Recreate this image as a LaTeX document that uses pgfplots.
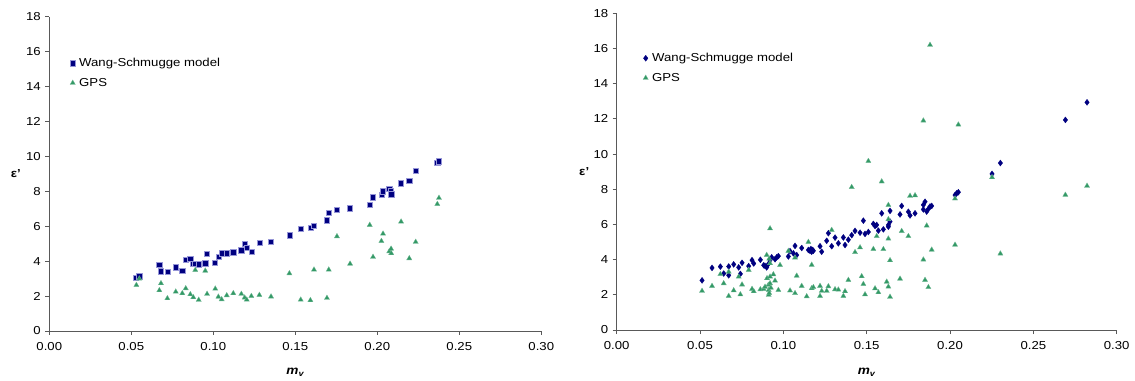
\documentclass[border=0pt]{standalone}
\usepackage{fontspec}
\setmainfont[FakeStretch=1.14]{Liberation Sans}
\usepackage{pgfplots}
\pgfplotsset{compat=1.18}
\definecolor{navy}{HTML}{000080}
\definecolor{seagreen}{HTML}{339966}
\definecolor{halo}{RGB}{150,150,215}
\begin{document}
\begin{tikzpicture}
\useasboundingbox (0bp,0bp) rectangle (1135bp,381bp);
\pgfplotsset{
 myaxis/.style={
  scale only axis,
  xmin=0, xmax=0.3, ymin=0, ymax=18,
  xtick={0,0.05,0.1,0.15,0.2,0.25,0.3}, ytick={0,2,4,6,8,10,12,14,16,18},
  axis x line*=bottom, axis y line*=left,
  axis line style={black!65, line width=0.8bp, -},
  tick style={black!65, line width=0.8bp},
  tick align=outside, major tick length=4bp,
  /pgf/number format/assume math mode=true,
  xticklabel style={/pgf/number format/fixed, /pgf/number format/fixed zerofill, /pgf/number format/precision=2, /tikz/font=\fontsize{11.6}{13}\selectfont, /tikz/yshift=-4bp},
  yticklabel style={/pgf/number format/fixed, /pgf/number format/precision=0, /tikz/font=\fontsize{11.6}{13}\selectfont, /tikz/xshift=-1bp},
  scaled x ticks=false,
  clip=false,
  legend cell align=left,
  legend style={draw=none, fill=none, font=\fontsize{11.6}{13}\selectfont, anchor=north west, row sep=7bp, inner sep=0pt, nodes={inner sep=1.5bp}},
  legend image code/.code={\path[draw=none] (0bp,-1bp) rectangle (11bp,1bp); \draw[#1] plot coordinates {(6bp,0bp)};},
  ylabel={\textbf{ε'}},
  ylabel style={rotate=-90, anchor=center, font=\fontsize{11.6}{13}\selectfont},
  xlabel={\textbf{\textit{m\textsubscript{v}}}},
  xlabel style={anchor=base, font=\fontsize{12}{14}\selectfont},
 },
 bluesq/.style={only marks, mark=square*, mark size=2.6bp, mark options={fill=navy, draw=halo, line width=0.5bp}},
 bluedia/.style={only marks, mark=diamond*, mark size=3bp, mark options={fill=navy, draw=navy, line width=0.3bp}},
 greentri/.style={only marks, mark=triangle*, mark size=3bp, mark options={fill=seagreen, draw=seagreen!70!white, line width=0.3bp}},
}
% ---------------- left panel ----------------
\begin{axis}[myaxis, anchor=south west, at={(49.3bp,50bp)}, width=492bp, height=314.3bp,
  ylabel style={at={(axis description cs:-0.068,0.5)}},
  xlabel style={at={(axis description cs:0.5,-0.1385)}},
  legend style={at={(axis description cs:0.035,0.873)}}]
\addplot[bluesq] coordinates {
(0.0529,3.03) (0.0549,3.13) (0.0671,3.80) (0.0681,3.42) (0.0720,3.40) (0.0771,3.65)
(0.0811,3.45) (0.0832,4.08) (0.0860,4.12) (0.0878,3.84) (0.0890,3.85) (0.0913,3.82)
(0.0951,3.88) (0.0960,4.41) (0.1010,3.89) (0.1031,4.26) (0.1051,4.45) (0.1082,4.45)
(0.1122,4.51) (0.1171,4.62) (0.1191,5.00) (0.1204,4.77) (0.1232,4.52) (0.1281,5.06)
(0.1352,5.11) (0.1464,5.48) (0.1533,5.86) (0.1592,5.92) (0.1612,6.05) (0.1693,6.34)
(0.1704,6.76) (0.1754,6.95) (0.1834,7.03) (0.1954,7.22) (0.1974,7.66) (0.2025,7.79)
(0.2035,8.00) (0.2073,8.15) (0.2084,8.04) (0.2085,7.83) (0.2145,8.46) (0.2195,8.59)
(0.2234,9.20) (0.2366,9.62) (0.2376,9.72)
};
\addlegendentry{Wang-Schmugge model}
\addplot[greentri] coordinates {
(0.0531,2.63) (0.0549,3.00) (0.0671,2.33) (0.0681,2.73) (0.0720,1.87) (0.0771,2.25)
(0.0811,2.16) (0.0832,2.44) (0.0860,2.10) (0.0878,1.93) (0.0890,3.49) (0.0911,1.78)
(0.0951,3.45) (0.0962,2.12) (0.1012,2.42) (0.1031,1.96) (0.1051,1.81) (0.1082,2.04)
(0.1122,2.16) (0.1171,2.12) (0.1191,1.91) (0.1204,1.79) (0.1232,2.00) (0.1281,2.06)
(0.1352,1.97) (0.1464,3.30) (0.1533,1.79) (0.1592,1.76) (0.1614,3.51) (0.1693,1.89)
(0.1704,3.51) (0.1754,5.42) (0.1834,3.85) (0.1954,6.07) (0.1974,4.24) (0.2025,5.15)
(0.2035,5.57) (0.2073,4.56) (0.2084,4.71) (0.2085,4.45) (0.2145,6.26) (0.2195,4.16)
(0.2234,5.10) (0.2366,7.27) (0.2376,7.62)
};
\addlegendentry{GPS}
\end{axis}
% ---------------- right panel ----------------
\begin{axis}[myaxis, anchor=south west, at={(616.7bp,51bp)}, width=500bp, height=316.7bp,
  ylabel style={at={(axis description cs:-0.065,0.5)}},
  xlabel style={at={(axis description cs:0.5,-0.1405)}},
  legend style={at={(axis description cs:0.0456,0.879)}}]
\addplot[bluedia] coordinates {
(0.0512,2.82) (0.0572,3.53) (0.0622,3.60) (0.0642,3.21) (0.0672,3.61) (0.0672,3.11)
(0.0702,3.73) (0.0732,3.56) (0.0742,3.19) (0.0752,3.82) (0.0792,3.63) (0.0812,3.97)
(0.0822,3.78) (0.0862,3.99) (0.0882,3.68) (0.0890,3.64) (0.0900,3.56) (0.0910,3.75)
(0.0920,3.98) (0.0930,4.13) (0.0950,4.02) (0.0960,4.13) (0.0970,4.20) (0.1030,4.18)
(0.1040,4.48) (0.1060,4.36) (0.1070,4.78) (0.1080,4.26) (0.1110,4.66) (0.1150,4.55)
(0.1160,4.50) (0.1165,4.60) (0.1170,4.45) (0.1175,4.55) (0.1180,4.50) (0.1220,4.76)
(0.1230,4.45) (0.1260,5.07) (0.1270,5.50) (0.1290,4.76) (0.1310,5.25) (0.1330,4.93)
(0.1360,5.26) (0.1370,4.83) (0.1390,5.13) (0.1410,5.39) (0.1430,5.63) (0.1460,5.53)
(0.1480,6.21) (0.1490,5.46) (0.1510,5.57) (0.1540,6.03) (0.1550,5.91) (0.1560,5.97)
(0.1570,5.65) (0.1590,6.63) (0.1600,5.72) (0.1630,5.97) (0.1640,6.16) (0.1630,5.87)
(0.1640,6.77) (0.1700,6.57) (0.1710,7.05) (0.1750,6.72) (0.1760,6.51) (0.1790,6.63)
(0.1840,7.11) (0.1850,7.29) (0.1840,6.85) (0.1860,6.73) (0.1870,6.88) (0.1880,7.02)
(0.1890,7.05) (0.2030,7.67) (0.2040,7.77) (0.2050,7.83) (0.2252,8.87) (0.2302,9.49)
(0.2692,11.94) (0.2822,12.94)
};
\addlegendentry{Wang-Schmugge model}
\addplot[greentri] coordinates {
(0.0512,2.22) (0.0572,2.50) (0.0622,3.17) (0.0642,2.65) (0.0672,1.93) (0.0672,3.31)
(0.0702,2.25) (0.0732,3.03) (0.0742,2.02) (0.0752,2.58) (0.0792,3.41) (0.0812,2.33)
(0.0822,2.20) (0.0862,2.31) (0.0882,2.33) (0.0890,2.45) (0.0900,4.26) (0.0902,2.94)
(0.0910,2.56) (0.0912,2.27) (0.0912,1.99) (0.0915,2.10) (0.0920,5.77) (0.0920,3.79)
(0.0920,3.03) (0.0920,2.65) (0.0925,2.40) (0.0915,4.05) (0.0940,3.16) (0.0950,2.80)
(0.0970,2.27) (0.0980,3.69) (0.1030,4.49) (0.1040,2.24) (0.1070,2.09) (0.1070,4.11)
(0.1080,3.08) (0.1110,2.50) (0.1140,1.91) (0.1150,5.00) (0.1170,3.70) (0.1170,2.37)
(0.1180,2.43) (0.1220,2.50) (0.1220,1.93) (0.1230,2.22) (0.1260,2.22) (0.1270,2.48)
(0.1290,5.68) (0.1310,2.31) (0.1330,2.29) (0.1360,1.93) (0.1370,2.20) (0.1390,2.84)
(0.1410,8.12) (0.1430,4.42) (0.1460,4.69) (0.1470,3.05) (0.1480,2.61) (0.1490,2.02)
(0.1510,9.60) (0.1540,4.60) (0.1550,2.36) (0.1560,5.33) (0.1570,2.14) (0.1590,8.44)
(0.1600,4.59) (0.1620,2.74) (0.1630,7.10) (0.1630,6.29) (0.1630,5.19) (0.1630,2.46)
(0.1640,3.96) (0.1640,1.88) (0.1700,2.91) (0.1710,5.62) (0.1750,5.33) (0.1760,7.62)
(0.1790,7.65) (0.1840,11.90) (0.1840,4.00) (0.1850,2.84) (0.1860,5.93) (0.1870,2.43)
(0.1880,16.20) (0.1890,4.56) (0.2030,7.47) (0.2030,4.84) (0.2050,11.67) (0.2252,8.68)
(0.2302,4.34) (0.2692,7.68) (0.2822,8.19)
};
\addlegendentry{GPS}
\end{axis}
\end{tikzpicture}
\end{document}
